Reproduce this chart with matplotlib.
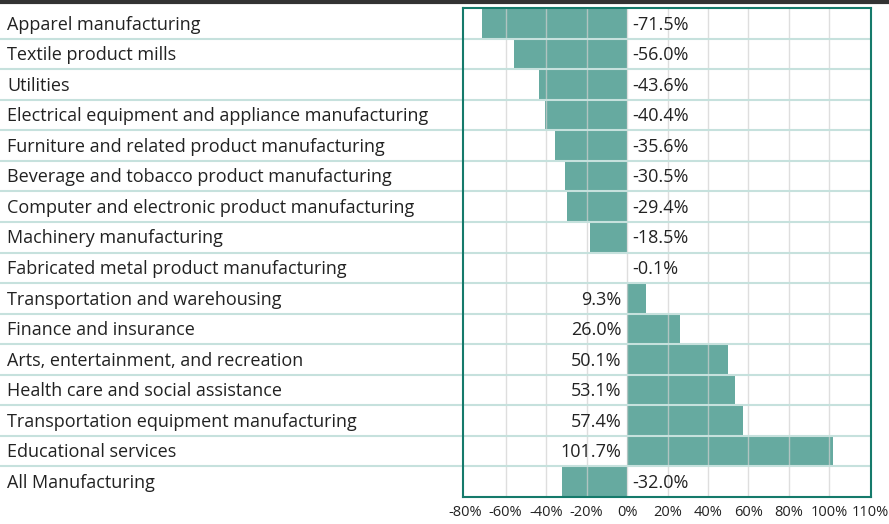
import matplotlib.pyplot as plt
from matplotlib.transforms import offset_copy

# data, top to bottom
industries = [
    "Apparel manufacturing",
    "Textile product mills",
    "Utilities",
    "Electrical equipment and appliance manufacturing",
    "Furniture and related product manufacturing",
    "Beverage and tobacco product manufacturing",
    "Computer and electronic product manufacturing",
    "Machinery manufacturing",
    "Fabricated metal product manufacturing",
    "Transportation and warehousing",
    "Finance and insurance",
    "Arts, entertainment, and recreation",
    "Health care and social assistance",
    "Transportation equipment manufacturing",
    "Educational services",
    "All Manufacturing",
]
pct_change = [-71.5, -56.0, -43.6, -40.4, -35.6, -30.5, -29.4, -18.5,
              -0.1, 9.3, 26.0, 50.1, 53.1, 57.4, 101.7, -32.0]
tick_vals = [-80, -60, -40, -20, 0, 20, 40, 60, 80, 100, 120]
tick_labels = ["-80%", "-60%", "-40%", "-20%", "0%", "20%", "40%", "60%",
               "80%", "100%", "110%"]

plt.rcParams['font.family'] = ['Open Sans', 'DejaVu Sans']

bar_color = '#66aaa0'
sep_color = '#c6e1dd'
frame_color = '#157a6b'
text_color = '#222222'

W, H = 889, 524
fig = plt.figure(figsize=(W / 100, H / 100), dpi=100)
ax_l, ax_r, ax_t, ax_b = 463, 871, 8, 497
ax = fig.add_axes([ax_l / W, 1 - ax_b / H, (ax_r - ax_l) / W, (ax_b - ax_t) / H])

n = len(industries)
ypos = list(range(n))
ax.barh(ypos, pct_change, height=1.0, color=bar_color, zorder=1)
ax.set_xlim(-81, 120.5)
ax.set_ylim(n - 0.5, -0.5)

# vertical grid on top of bars
for v in tick_vals[1:-1]:
    ax.axvline(v, color='#d0d0d0', lw=1, alpha=0.7, zorder=2)

# row separators spanning label column and plot
x_start = -ax_l / (ax_r - ax_l)
for i in range(n - 1):
    ax.plot([x_start, 1], [i + 0.5, i + 0.5], transform=ax.get_yaxis_transform(),
            color=sep_color, lw=1.5, clip_on=False, zorder=3)

# category labels
label_x = -(ax_l - 7) / (ax_r - ax_l)
for i, name in enumerate(industries):
    ax.text(label_x, i + 0.04, name, transform=ax.get_yaxis_transform(),
            ha='left', va='center', fontsize=13, color=text_color)

# value labels next to zero
right_tr = offset_copy(ax.transData, fig=fig, x=4, y=0, units='points')
left_tr = offset_copy(ax.transData, fig=fig, x=-4, y=0, units='points')
for i, v in enumerate(pct_change):
    if v < 0:
        ax.text(0, i + 0.04, f"{v:.1f}%", transform=right_tr, ha='left', va='center',
                fontsize=13, color=text_color, zorder=4)
    else:
        ax.text(0, i + 0.04, f"{v:.1f}%", transform=left_tr, ha='right', va='center',
                fontsize=13, color=text_color, zorder=4)

ax.set_xticks(tick_vals)
ax.set_xticklabels(tick_labels, fontsize=10.5, color=text_color)
ax.tick_params(axis='x', length=0, pad=6)
ax.set_yticks([])
for s in ax.spines.values():
    s.set_color(frame_color)
    s.set_linewidth(1.5)
    s.set_zorder(5)

# dark rule across the top
fig.add_artist(plt.Line2D([0, 1], [1 - 2 / H, 1 - 2 / H], transform=fig.transFigure,
                          color='#333333', lw=3))

fig.savefig('out.png', dpi=100)
